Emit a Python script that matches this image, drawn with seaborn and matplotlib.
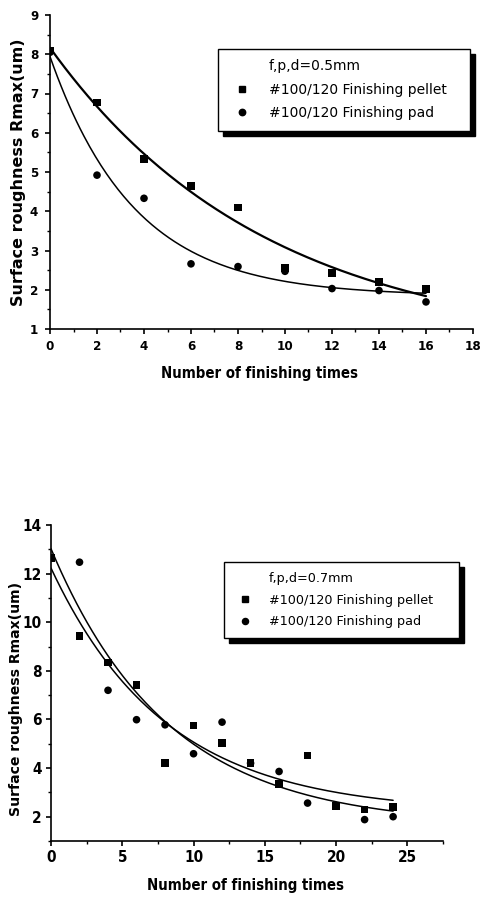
import numpy as np
import pandas as pd
import matplotlib
matplotlib.use("Agg")
import matplotlib.pyplot as plt
from matplotlib.lines import Line2D
from matplotlib.ticker import MultipleLocator
import seaborn as sns

# ---------------- data ----------------
top_x = [0, 2, 4, 6, 8, 10, 12, 14, 16]
top_pellet = [8.1, 6.77, 5.33, 4.65, 4.1, 2.56, 2.43, 2.2, 2.02]
top_pad = [8.05, 4.92, 4.33, 2.66, 2.59, 2.47, 2.03, 1.98, 1.69]

bot_x = [0, 2, 4, 6, 8, 10, 12, 14, 16, 18, 20, 22, 24]
bot_pellet = [12.63, 9.44, 8.34, 7.43, 4.21, 5.75, 5.02, 4.22, 3.35, 4.52, 2.44, 2.29, 2.41]
bot_pad = [12.63, 12.47, 7.2, 5.99, 5.78, 4.59, 5.89, 4.2, 3.86, 2.56, 2.45, 1.88, 2.0]

label_pellet = "#100/120 Finishing pellet"
label_pad = "#100/120 Finishing pad"
top_title = "f,p,d=0.5mm"
bot_title = "f,p,d=0.7mm"
xlabel = "Number of finishing times"
ylabel = "Surface roughness Rmax(um)"


def expdec_fit(x, y):
    """least-squares fit of y = y0 + A*exp(-x/t) to the data"""
    x = np.asarray(x, float)
    y = np.asarray(y, float)
    best = None
    for t in np.linspace(0.5, 60, 1200):
        M = np.column_stack([np.ones_like(x), np.exp(-x / t)])
        coef, *_ = np.linalg.lstsq(M, y, rcond=None)
        sse = np.sum((M @ coef - y) ** 2)
        if best is None or sse < best[0]:
            best = (sse, coef, t)
    _, (y0, a), t = best
    xs = np.linspace(x.min(), x.max(), 200)
    return xs, y0 + a * np.exp(-xs / t)


sns.set_theme(style="ticks")
FONT = ["DejaVu Sans"]
plt.rcParams["font.family"] = FONT
plt.rcParams["text.color"] = "black"
plt.rcParams["axes.labelcolor"] = "black"
plt.rcParams["xtick.color"] = "black"
plt.rcParams["ytick.color"] = "black"
plt.rcParams["axes.linewidth"] = 1.2
plt.rcParams["xtick.major.width"] = 1.2
plt.rcParams["ytick.major.width"] = 1.2
plt.rcParams["xtick.minor.width"] = 1.0
plt.rcParams["ytick.minor.width"] = 1.0
plt.rcParams["xtick.major.size"] = 3.5
plt.rcParams["ytick.major.size"] = 3.5
plt.rcParams["xtick.minor.size"] = 2.2
plt.rcParams["ytick.minor.size"] = 2.2

W, H = 481.0, 901.0
fig = plt.figure(figsize=(4.81, 9.01), dpi=100)
ax1 = fig.add_axes([50 / W, 1 - 329 / H, 423 / W, 314 / H])
ax2 = fig.add_axes([51 / W, 1 - 841 / H, 392 / W, 316 / H])


def draw(ax, xv, pel, pad, title, lw_pel, lw_pad, ms):
    df = pd.DataFrame({"x": xv + xv, "y": pel + pad,
                       "series": [label_pellet] * len(xv) + [label_pad] * len(xv)})
    xs1, ys1 = expdec_fit(xv, pel)
    xs2, ys2 = expdec_fit(xv, pad)
    sns.lineplot(x=xs1, y=ys1, ax=ax, color="black", lw=lw_pel, estimator=None, sort=False)
    sns.lineplot(x=xs2, y=ys2, ax=ax, color="black", lw=lw_pad, estimator=None, sort=False)
    sns.scatterplot(data=df, x="x", y="y", style="series",
                    markers={label_pellet: "s", label_pad: "o"},
                    color="black", s=30, edgecolor="black", linewidth=0,
                    ax=ax, legend=False, zorder=3)
    sns.despine(ax=ax)
    handles = [Line2D([], [], linestyle="none", marker=""),
               Line2D([], [], linestyle="none", marker="s", color="black", markersize=ms),
               Line2D([], [], linestyle="none", marker="o", color="black", markersize=ms)]
    return handles, [title, label_pellet, label_pad]


def make_legend(ax, h, l, box_px, fs, hl, htp, ls):
    L, T, R, B = box_px
    bb = (L / W, 1 - B / H, (R - L) / W, (B - T) / H)
    leg = ax.legend(h, l, loc="upper left", bbox_to_anchor=bb, mode="expand",
                    bbox_transform=fig.transFigure, borderaxespad=0, frameon=True,
                    fancybox=False, edgecolor="black", framealpha=1,
                    prop={"family": FONT, "size": fs}, handlelength=hl,
                    handletextpad=htp, labelspacing=ls, borderpad=0.75,
                    labelcolor="black",
                    shadow={"ox": 3.5, "oy": -3.5, "color": "black", "alpha": 1})
    leg.get_frame().set_linewidth(1.0)
    return leg


h, l = draw(ax1, top_x, top_pellet, top_pad, top_title, 1.6, 1.1, 4.6)
ax1.set_xlim(0, 18)
ax1.set_ylim(1, 9)
ax1.xaxis.set_major_locator(MultipleLocator(2))
ax1.xaxis.set_minor_locator(MultipleLocator(1))
ax1.yaxis.set_major_locator(MultipleLocator(1))
ax1.yaxis.set_minor_locator(MultipleLocator(0.5))
make_legend(ax1, h, l, (218, 49, 470, 131), 10, 1.95, 0.95, 0.68)

h, l = draw(ax2, bot_x, bot_pellet, bot_pad, bot_title, 1.1, 1.1, 4.4)
ax2.set_xlim(0, 27.5)
ax2.set_ylim(1, 14)
ax2.xaxis.set_major_locator(MultipleLocator(5))
ax2.xaxis.set_minor_locator(MultipleLocator(2.5))
ax2.yaxis.set_major_locator(MultipleLocator(2))
ax2.yaxis.set_minor_locator(MultipleLocator(1))
make_legend(ax2, h, l, (224, 562, 459, 642), 9.2, 1.85, 0.9, 0.7)

settings = [
    # ax, ylabel size, tick label size, x pad, y pad, ylabel coords, xlabel coords
    (ax1, 11.5, 9.5, 4.5, 5.0, (-0.0556, 0.50), (0.495, -0.118)),
    (ax2, 10.1, 11.0, 3.0, 3.0, (-0.0727, 0.449), (0.495, -0.118)),
]
for ax, ysz, tsz, xpad, ypad, ylc, xlc in settings:
    ax.set_xlabel(xlabel, fontsize=10.7, fontweight="bold", fontstretch="condensed",
                  family=FONT, color="black")
    ax.set_ylabel(ylabel, fontsize=ysz, fontweight="bold", family=FONT, color="black")
    ax.yaxis.set_label_coords(*ylc)
    ax.xaxis.set_label_coords(*xlc)
    for t in ax.get_xticklabels() + ax.get_yticklabels():
        t.set_fontweight("bold")
        t.set_fontsize(tsz)
        t.set_fontstretch("condensed")
        t.set_family(FONT)
        t.set_color("black")
    ax.tick_params(axis="x", which="both", colors="black", pad=xpad)
    ax.tick_params(axis="y", which="both", colors="black", pad=ypad)
    for s in ax.spines.values():
        s.set_color("black")

fig.savefig("out.png", dpi=100, facecolor="white")
